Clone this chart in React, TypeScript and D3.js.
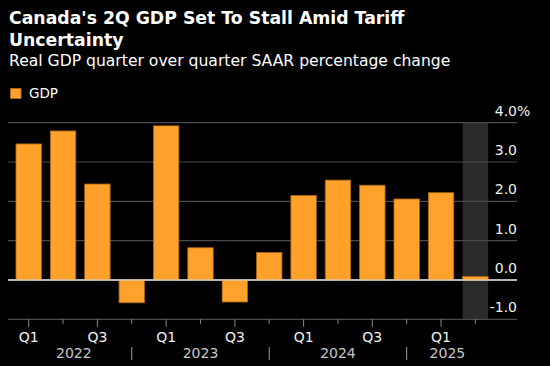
import * as d3 from 'd3';

const W = 550;
const H = 366;

const QUARTERS = ['2022Q1', '2022Q2', '2022Q3', '2022Q4', '2023Q1', '2023Q2', '2023Q3', '2023Q4', '2024Q1', '2024Q2', '2024Q3', '2024Q4', '2025Q1', '2025Q2'];
const GDP = [3.46, 3.79, 2.44, -0.58, 3.92, 0.82, -0.56, 0.7, 2.15, 2.54, 2.41, 2.06, 2.22, 0.09];
const Y_TICKS = [4, 3, 2, 1, 0, -1];
const YEARS = ['2022', '2023', '2024', '2025'];
const FORECAST = ['2025Q2'];

const ORANGE = '#ffa12b';
const FONT = '"DejaVu Sans", Verdana, sans-serif';

export default function App() {
  const x = d3.scaleBand<string>().domain(QUARTERS).range([11.5, 492.6]).paddingInner(0.26).paddingOuter(0.13);
  const y = d3.scaleLinear().domain([-1, 4]).range([319.3, 122.7]);
  const gridLeft = 8;
  const gridRight = 517;
  const bw = x.bandwidth();
  const cx = (q: string) => (x(q) as number) + bw / 2;

  // year spans: from first bar's left edge to Q4 centre (separator)
  const yearSpans = YEARS.map((yr) => {
    const qs = QUARTERS.filter((q) => q.startsWith(yr));
    const first = qs[0];
    const last = qs[qs.length - 1];
    const left = yr === YEARS[0] ? (x(first) as number) : cx(`${+yr - 1}Q4`);
    const right = last.endsWith('Q4') ? cx(last) : (x(last) as number) + bw;
    return { yr, left, right, sep: last.endsWith('Q4') ? cx(last) : null };
  });

  return (
    <svg width={W} height={H} style={{ position: 'absolute', left: 0, top: 0, background: '#000' }}>
      <rect width={W} height={H} fill="#000" />
      <text x={9} y={24} fill="#fff" fontFamily={FONT} fontWeight="bold" fontSize={17.3}>
        Canada's 2Q GDP Set To Stall Amid Tariff
      </text>
      <text x={9} y={45.5} fill="#fff" fontFamily={FONT} fontWeight="bold" fontSize={17.3}>
        Uncertainty
      </text>
      <text x={9} y={66} fill="#fff" fontFamily={FONT} fontSize={15.6}>
        Real GDP quarter over quarter SAAR percentage change
      </text>

      {/* legend */}
      <rect x={10.5} y={88.5} width={10.5} height={10} fill={ORANGE} stroke="#b36e15" strokeWidth={0.8} />
      <text x={29} y={98} fill="#fff" fontFamily={FONT} fontSize={13.5}>GDP</text>

      {/* forecast shading */}
      {FORECAST.map((q) => (
        <rect key={q} x={x(q)} y={y(4)} width={bw} height={y(-1) - y(4)} fill="#2b2b2b" />
      ))}

      {/* gridlines */}
      {Y_TICKS.map((t) => (
        <line key={t} x1={gridLeft} x2={gridRight} y1={y(t)} y2={y(t)}
          stroke={t === 0 ? '#f2f2f2' : '#4a4a4a'} strokeWidth={1.2} />
      ))}

      {/* bars */}
      {QUARTERS.map((q, i) => {
        const v = GDP[i];
        return (
          <rect key={q} x={x(q)} width={bw} y={y(Math.max(0, v))}
            height={Math.abs(y(v) - y(0))} fill={ORANGE} stroke="#a9670f" strokeWidth={0.8} />
        );
      })}
      <line x1={gridLeft} x2={gridRight} y1={y(0)} y2={y(0)} stroke="#f2f2f2" strokeWidth={1.2} />

      {/* y labels */}
      {Y_TICKS.map((t) => (
        <g key={t}>
          <text x={gridRight} y={y(t) - 7} textAnchor="end" fill="#f0f0f0" fontFamily={FONT} fontSize={14}>
            {d3.format('.1f')(t).replace('−', '-')}
          </text>
          {t === 4 && (
            <text x={gridRight} y={y(t) - 7} fill="#f0f0f0" fontFamily={FONT} fontSize={14}>%</text>
          )}
        </g>
      ))}

      {/* x ticks */}
      {QUARTERS.map((q) => {
        const qn = q.slice(4);
        const major = qn === 'Q1' || qn === 'Q3';
        return (
          <g key={q}>
            <line x1={cx(q)} x2={cx(q)} y1={y(-1)} y2={y(-1) + (major ? 7.5 : 4.5)} stroke="#8a8a8a" strokeWidth={1} />
            {major && (
              <text x={cx(q)} y={341.5} textAnchor="middle" fill="#f0f0f0" fontFamily={FONT} fontSize={14}>{qn}</text>
            )}
          </g>
        );
      })}

      {/* years */}
      {yearSpans.map((s) => (
        <g key={s.yr}>
          <text x={(s.left + s.right) / 2} y={358} textAnchor="middle" fill="#c8c8c8" fontFamily={FONT} fontSize={14}>{s.yr}</text>
          {s.sep !== null && s.yr !== YEARS[YEARS.length - 1] && (
            <line x1={s.sep} x2={s.sep} y1={347} y2={360} stroke="#9a9a9a" strokeWidth={1} />
          )}
        </g>
      ))}
    </svg>
  );
}
